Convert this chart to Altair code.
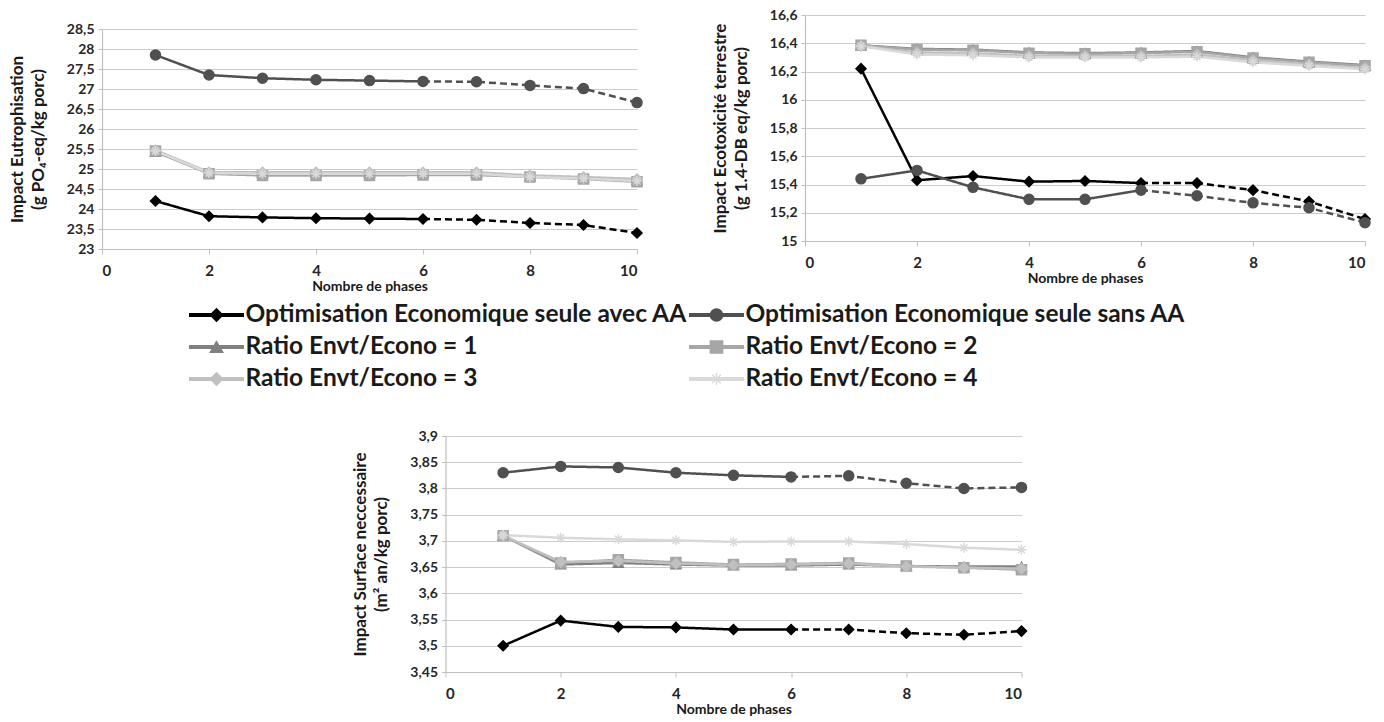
import altair as alt
import pandas as pd

phases = [1, 2, 3, 4, 5, 6, 7, 8, 9, 10]
series_names = [
    "Optimisation Economique seule avec AA",
    "Optimisation Economique seule sans AA",
    "Ratio Envt/Econo = 1",
    "Ratio Envt/Econo = 2",
    "Ratio Envt/Econo = 3",
    "Ratio Envt/Econo = 4",
]
series_colors = ["#000000", "#505050", "#808080", "#a6a6a6", "#c0c0c0", "#d9d9d9"]
ASTERISK = "M-1,0L1,0M0,-1L0,1M-0.7,-0.7L0.7,0.7M-0.7,0.7L0.7,-0.7"
series_shapes = ["diamond", "circle", "triangle-up", "square", "diamond", ASTERISK]
dashed_from = 6  # phases after this are dashed for the two economic series

# Eutrophisation (g PO4-eq/kg porc)
eut_avec = [24.2, 23.82, 23.79, 23.77, 23.76, 23.75, 23.73, 23.65, 23.6, 23.4]
eut_sans = [27.85, 27.35, 27.27, 27.23, 27.21, 27.19, 27.18, 27.09, 27.01, 26.66]
eut_r1 = [25.43, 24.9, 24.9, 24.9, 24.9, 24.9, 24.9, 24.82, 24.78, 24.72]
eut_r2 = [25.45, 24.88, 24.84, 24.84, 24.84, 24.85, 24.85, 24.8, 24.75, 24.68]
eut_r3 = [25.47, 24.92, 24.92, 24.92, 24.92, 24.92, 24.92, 24.84, 24.8, 24.75]
eut_r4 = [25.45, 24.9, 24.88, 24.88, 24.88, 24.88, 24.88, 24.8, 24.76, 24.7]
eut_ticks = [23, 23.5, 24, 24.5, 25, 25.5, 26, 26.5, 27, 27.5, 28, 28.5]

# Ecotoxicite terrestre (g 1.4-DB eq/kg porc)
eco_avec = [16.22, 15.43, 15.46, 15.42, 15.425, 15.41, 15.41, 15.36, 15.28, 15.155]
eco_sans = [15.44, 15.50, 15.38, 15.295, 15.295, 15.36, 15.32, 15.27, 15.235, 15.13]
eco_r1 = [16.385, 16.36, 16.355, 16.335, 16.33, 16.335, 16.345, 16.30, 16.27, 16.245]
eco_r2 = [16.385, 16.355, 16.35, 16.33, 16.325, 16.33, 16.34, 16.295, 16.265, 16.24]
eco_r3 = [16.38, 16.335, 16.33, 16.31, 16.31, 16.31, 16.32, 16.28, 16.25, 16.225]
eco_r4 = [16.38, 16.32, 16.315, 16.30, 16.30, 16.30, 16.305, 16.265, 16.24, 16.215]
eco_ticks = [15, 15.2, 15.4, 15.6, 15.8, 16, 16.2, 16.4, 16.6]

# Surface necessaire (m2 an/kg porc)
sur_avec = [3.50, 3.548, 3.536, 3.535, 3.531, 3.531, 3.531, 3.524, 3.521, 3.528]
sur_sans = [3.83, 3.842, 3.84, 3.83, 3.825, 3.822, 3.824, 3.81, 3.80, 3.802]
sur_r1 = [3.71, 3.655, 3.658, 3.655, 3.653, 3.653, 3.655, 3.652, 3.651, 3.651]
sur_r2 = [3.71, 3.658, 3.664, 3.659, 3.655, 3.656, 3.658, 3.652, 3.649, 3.645]
sur_r3 = [3.71, 3.66, 3.662, 3.657, 3.654, 3.655, 3.657, 3.651, 3.649, 3.647]
sur_r4 = [3.711, 3.706, 3.703, 3.701, 3.698, 3.699, 3.699, 3.694, 3.687, 3.683]
sur_ticks = [3.45, 3.5, 3.55, 3.6, 3.65, 3.7, 3.75, 3.8, 3.85, 3.9]

x_ticks = [0, 2, 4, 6, 8, 10]

FONT = "Lato"
COMMA = "replace(format(datum.value, '~g'), '.', ',')"

color_scale = alt.Scale(domain=series_names, range=series_colors)
shape_scale = alt.Scale(domain=series_names, range=series_shapes)


def make_frames(values_list):
    line_rows, point_rows = [], []
    for i, (name, vals) in enumerate(zip(series_names, values_list)):
        for x, y in zip(phases, vals):
            point_rows.append({"series": name, "x": x, "y": y, "o": i})
            if i < 2:
                if x <= dashed_from:
                    line_rows.append({"series": name, "x": x, "y": y, "seg": "solid", "o": i})
                if x >= dashed_from:
                    line_rows.append({"series": name, "x": x, "y": y, "seg": "dashed", "o": i})
            else:
                line_rows.append({"series": name, "x": x, "y": y, "seg": "solid", "o": i})
    return pd.DataFrame(line_rows), pd.DataFrame(point_rows)


def panel(values_list, ticks, title, width, height):
    ldf, pdf = make_frames(values_list)
    x_enc = alt.X("x:Q", scale=alt.Scale(domain=[0, 10], nice=False),
                  axis=alt.Axis(values=x_ticks, title="Nombre de phases", grid=False,
                                labelFontSize=15, titleFontSize=14, titlePadding=1,
                                tickSize=5, labelPadding=9, format="d"))
    y_enc = alt.Y("y:Q", scale=alt.Scale(domain=[ticks[0], ticks[-1]], nice=False, zero=False),
                  axis=alt.Axis(values=ticks, title=title, labelExpr=COMMA,
                                labelFontSize=14, titleFontSize=17, tickSize=4,
                                labelPadding=4, titlePadding=19, titleLineHeight=21))
    lines = alt.Chart(ldf).mark_line(strokeWidth=2.5).encode(
        x=x_enc, y=y_enc,
        color=alt.Color("series:N", scale=color_scale, legend=None),
        strokeDash=alt.StrokeDash("seg:N", scale=alt.Scale(domain=["solid", "dashed"],
                                                           range=[[1, 0], [7, 4]]), legend=None),
        detail="series:N",
        order="o:Q",
    )
    points = alt.Chart(pdf).mark_point(filled=True, size=100, opacity=1, strokeWidth=1.5).encode(
        x=x_enc, y=y_enc,
        color=alt.Color("series:N", scale=color_scale, legend=None),
        stroke=alt.Stroke("series:N", scale=color_scale, legend=None),
        shape=alt.Shape("series:N", scale=shape_scale, legend=None),
        order="o:Q",
    )
    return alt.layer(lines, points).properties(width=width, height=height)


tl = panel([eut_avec, eut_sans, eut_r1, eut_r2, eut_r3, eut_r4], eut_ticks,
           ["Impact Eutrophisation", "(g PO\u2084-eq/kg porc)"], 535, 220)
tr = panel([eco_avec, eco_sans, eco_r1, eco_r2, eco_r3, eco_r4], eco_ticks,
           ["Impact Ecotoxicit\u00e9 terrestre", "(g 1.4-DB eq/kg porc)"], 560, 226)
bot = panel([sur_avec, sur_sans, sur_r1, sur_r2, sur_r3, sur_r4], sur_ticks,
            ["Impact Surface neccessaire", "(m\u00b2 an/kg porc)"], 576, 236)

# invisible spacer to push the left panel slightly lower than the right one
spacer = alt.Chart(pd.DataFrame({"v": [0]})).mark_point(opacity=0, size=0).encode(
    x=alt.X("v:Q", axis=None), y=alt.Y("v:Q", axis=None)
).properties(width=535, height=1)
tl_col = alt.vconcat(spacer, tl, spacing=6)

# Manual legend (two columns, three rows)
leg_df = pd.DataFrame({
    "series": series_names,
    "col": [0, 1, 0, 1, 0, 1],
    "row": [0, 0, 1, 1, 2, 2],
})
lx = alt.Scale(domain=[0, 2], range=[87, 1087], nice=False)
ly = alt.Scale(domain=[-0.5, 2.5], range=[0, 96], nice=False)
leg_base = alt.Chart(leg_df).transform_calculate(
    x0="datum.col", x1="datum.col + 0.11", xm="datum.col + 0.055", xt="datum.col + 0.113"
)
leg_line = leg_base.mark_rule(strokeWidth=4).encode(
    x=alt.X("x0:Q", scale=lx, axis=None), x2="x1:Q",
    y=alt.Y("row:Q", scale=ly, axis=None),
    color=alt.Color("series:N", scale=color_scale, legend=None),
)
leg_pt = leg_base.mark_point(filled=True, size=150, opacity=1, strokeWidth=1.5).encode(
    x=alt.X("xm:Q", scale=lx, axis=None),
    y=alt.Y("row:Q", scale=ly, axis=None),
    color=alt.Color("series:N", scale=color_scale, legend=None),
    stroke=alt.Stroke("series:N", scale=color_scale, legend=None),
    shape=alt.Shape("series:N", scale=shape_scale, legend=None),
)
leg_txt = leg_base.mark_text(align="left", baseline="middle", fontSize=24.5, fontWeight="bold",
                             font=FONT, color="#1a1a1a").encode(
    x=alt.X("xt:Q", scale=lx, axis=None),
    y=alt.Y("row:Q", scale=ly, axis=None),
    text="series:N",
)
legend = alt.layer(leg_line, leg_pt, leg_txt).properties(width=1100, height=96)

top = alt.hconcat(tl_col, tr, spacing=66)
upper = alt.vconcat(top, legend, spacing=6, center=False)
chart = alt.vconcat(upper, bot, spacing=34, center=True).configure(
    font=FONT, padding=0
).configure_view(stroke=None).configure_axis(
    labelFont=FONT, titleFont=FONT, labelFontWeight="bold", titleFontWeight="bold",
    labelColor="#262626", titleColor="#1a1a1a", gridColor="#cccccc", domainColor="#bfbfbf",
    tickColor="#bfbfbf", gridWidth=1.2, domainWidth=1.2
)

chart.save("out.html", embed_options={"renderer": "svg", "actions": False})
